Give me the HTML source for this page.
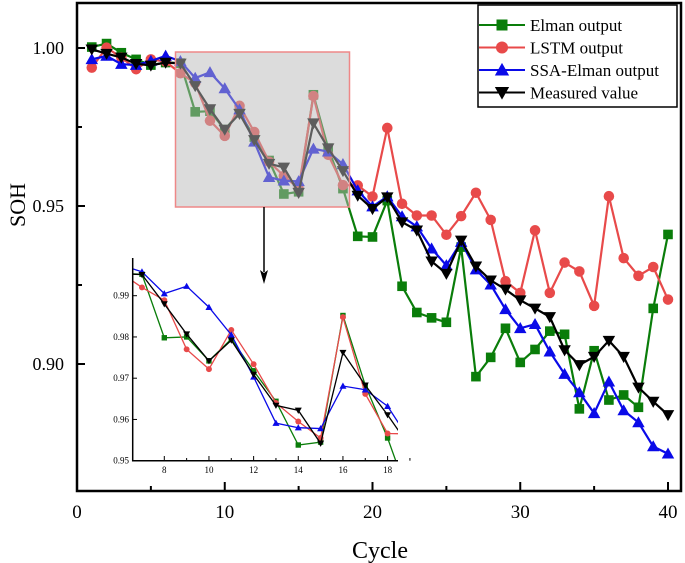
<!DOCTYPE html>
<html><head><meta charset="utf-8"><style>
html,body{margin:0;padding:0;background:#fff}
svg{display:block;font-family:"Liberation Serif",serif}
</style></head><body>
<svg id="c" width="685" height="563" viewBox="0 0 685 563" xmlns="http://www.w3.org/2000/svg"></svg>
<script>
const cycles=[1,2,3,4,5,6,7,8,9,10,11,12,13,14,15,16,17,18,19,20,21,22,23,24,25,26,27,28,29,30,31,32,33,34,35,36,37,38,39,40];
const elman=[1.0003,1.0014,0.9985,0.9964,0.9946,0.9954,0.9952,0.9798,0.9800,0.9742,0.9795,0.9718,0.9644,0.9538,0.9545,0.9852,0.9683,0.9555,0.9404,0.9402,0.9517,0.9246,0.9163,0.9146,0.9132,0.9370,0.8960,0.9021,0.9113,0.9005,0.9046,0.9104,0.9094,0.8858,0.9042,0.8886,0.8902,0.8863,0.9176,0.9410];
const lstm=[0.9938,1.0001,0.9970,0.9933,0.9964,0.9957,0.9920,0.9889,0.9770,0.9722,0.9817,0.9734,0.9640,0.9595,0.9555,0.9848,0.9662,0.9566,0.9565,0.9530,0.9747,0.9507,0.9470,0.9470,0.9409,0.9468,0.9542,0.9456,0.9262,0.9225,0.9423,0.9225,0.9321,0.9293,0.9184,0.9531,0.9335,0.9279,0.9307,0.9204];
const ssa=[0.9964,0.9975,0.9949,0.9946,0.9959,0.9975,0.9958,0.9905,0.9923,0.9872,0.9805,0.9703,0.9591,0.9580,0.9578,0.9681,0.9672,0.9632,0.9549,0.9498,0.9530,0.9467,0.9435,0.9365,0.9312,0.9386,0.9299,0.9251,0.9173,0.9113,0.9126,0.9039,0.8968,0.8910,0.8844,0.8944,0.8853,0.8815,0.8739,0.8716];
const measured=[0.9996,0.9982,0.9970,0.9950,0.9945,0.9954,0.9951,0.9880,0.9807,0.9742,0.9792,0.9709,0.9634,0.9622,0.9542,0.9762,0.9683,0.9611,0.9533,0.9491,0.9528,0.9449,0.9423,0.9325,0.9286,0.9391,0.9309,0.9265,0.9236,0.9202,0.9176,0.9149,0.9044,0.8997,0.9023,0.9074,0.9023,0.8926,0.8881,0.8839];
const xTicks=[0,10,20,30,40];
const yTicks=[0.90,0.95,1.00];
const insetXTicks=[8,10,12,14,16,18];
const insetYTicks=[0.95,0.96,0.97,0.98,0.99];
const seriesNames=["Elman output","LSTM output","SSA-Elman output","Measured value"];

const NS="http://www.w3.org/2000/svg";
const svg=document.getElementById('c');
function mk(tag,attrs,parent){const e=document.createElementNS(NS,tag);for(const k in attrs)e.setAttribute(k,attrs[k]);(parent||svg).appendChild(e);return e;}
const X=c=>77+(c-0)*(668-77)/40;
const Y=v=>48+(1.0-v)*(364-48)/0.1;
const IX=c=>164.3+(c-8)*22.33;
const IY=v=>460.7-(v-0.95)*4125;

const colors=["#0a7d0a","#e84a4a","#0a0ae8","#000"];
const data=[elman,lstm,ssa,measured];
const keys=["elman","lstm","ssa-elman","measured"];

function marker(type,x,y,col,s,parent){
  let m;
  if(type===0)m=mk('rect',{x:x-s,y:y-s,width:2*s,height:2*s,fill:col},parent);
  else if(type===1)m=mk('circle',{cx:x,cy:y,r:s*1.1,fill:col},parent);
  else if(type===2)m=mk('polygon',{points:`${x},${y-s*1.3} ${x-s*1.3},${y+s} ${x+s*1.3},${y+s}`,fill:col},parent);
  else m=mk('polygon',{points:`${x},${y+s*1.3} ${x-s*1.3},${y-s} ${x+s*1.3},${y-s}`,fill:col},parent);
  return m;
}

// main series
const gMain=mk('g',{});


data.forEach((arr,i)=>{
  const g=mk('g',{},gMain);
  
  
  const pl=mk('polyline',{points:arr.map((v,j)=>X(cycles[j])+','+Y(v)).join(' '),fill:'none',stroke:colors[i],'stroke-width':2.2},g);
  
  
  arr.forEach((v,j)=>{
    const m=marker(i,X(cycles[j]),Y(v),colors[i],4.8,g);
    
    
  });
});

// zoom rectangle overlay
const zr=mk('rect',{x:175.5,y:52,width:174,height:155,fill:'rgba(185,185,185,0.5)',stroke:'#ee8888','stroke-width':1.5});


const ar=mk('line',{x1:264,y1:207,x2:264,y2:272,stroke:'#000','stroke-width':1.5});


const ah=mk('polygon',{points:'264,284 260,270 264,273 268,270',fill:'#000'});



// inset
const gIn=mk('g',{});


const clip=mk('clipPath',{id:'ic'},gIn);
mk('rect',{x:133,y:255,width:265,height:206},clip);
const gInS=mk('g',{'clip-path':'url(#ic)'},gIn);
data.forEach((arr,i)=>{
  const pts=[];
  arr.forEach((v,j)=>{if(cycles[j]>=6&&cycles[j]<=19)pts.push([IX(cycles[j]),IY(v)]);});
  const pl=mk('polyline',{points:pts.map(p=>p.join(',')).join(' '),fill:'none',stroke:colors[i],'stroke-width':1.3},gInS);
  
  
  pts.forEach(p=>{
    const m=marker(i,p[0],p[1],colors[i],2.7,gInS);
    
    
  });
});
mk('path',{d:'M132.7,258 V460.7 H398',fill:'none',stroke:'#000','stroke-width':1.5},gIn);
insetXTicks.forEach(t=>{
  mk('line',{x1:IX(t),y1:460.7,x2:IX(t),y2:456,stroke:'#000','stroke-width':1},gIn);
  mk('line',{x1:IX(t+1),y1:460.7,x2:IX(t+1),y2:458,stroke:'#000','stroke-width':1},gIn);
  const tx=mk('text',{x:IX(t),y:473,'font-size':9,'text-anchor':'middle'},gIn);tx.textContent=t;
  
  
});
insetYTicks.forEach(t=>{
  mk('line',{x1:132.7,y1:IY(t),x2:137,y2:IY(t),stroke:'#000','stroke-width':1},gIn);
  const tx=mk('text',{x:129,y:IY(t)+3,'font-size':9,'text-anchor':'end'},gIn);tx.textContent=t.toFixed(2);
  
  
});

// axes frame
const fr=mk('rect',{x:77,y:3,width:604,height:488,fill:'none',stroke:'#000','stroke-width':2.5});


xTicks.forEach(t=>{
  mk('line',{x1:X(t),y1:491,x2:X(t),y2:482,stroke:'#000','stroke-width':2});
  if(t<40)mk('line',{x1:X(t+5),y1:491,x2:X(t+5),y2:486,stroke:'#000','stroke-width':2});
  const tx=mk('text',{x:X(t),y:518,'font-size':19,'text-anchor':'middle'});tx.textContent=t;
  
  
});
yTicks.forEach(t=>{
  mk('line',{x1:77,y1:Y(t),x2:85,y2:Y(t),stroke:'#000','stroke-width':2});
  mk('line',{x1:77,y1:Y(t+0.025),x2:82,y2:Y(t+0.025),stroke:'#000','stroke-width':2});
  const tx=mk('text',{x:64,y:Y(t)+6,'font-size':18,'text-anchor':'end'});tx.textContent=t.toFixed(2);
  
  
});
const xt=mk('text',{x:380,y:558,'font-size':24,'text-anchor':'middle'});xt.textContent='Cycle';


const yt=mk('text',{x:0,y:0,'font-size':22,'text-anchor':'middle',transform:'translate(25,205) rotate(-90)'});yt.textContent='SOH';



// legend
const lg=mk('g',{});


mk('rect',{x:478,y:5,width:199,height:102,fill:'#fff',stroke:'#000','stroke-width':1.5},lg);
seriesNames.forEach((n,i)=>{
  const y=25+i*22.5;
  const e=mk('g',{},lg);
  
  
  mk('line',{x1:479,y1:y,x2:525,y2:y,stroke:colors[i],'stroke-width':2},e);
  marker(i,502,y,colors[i],5.5,e);
  const tx=mk('text',{x:530,y:y+6,'font-size':17},e);tx.textContent=n;
});
</script>
</body></html>
